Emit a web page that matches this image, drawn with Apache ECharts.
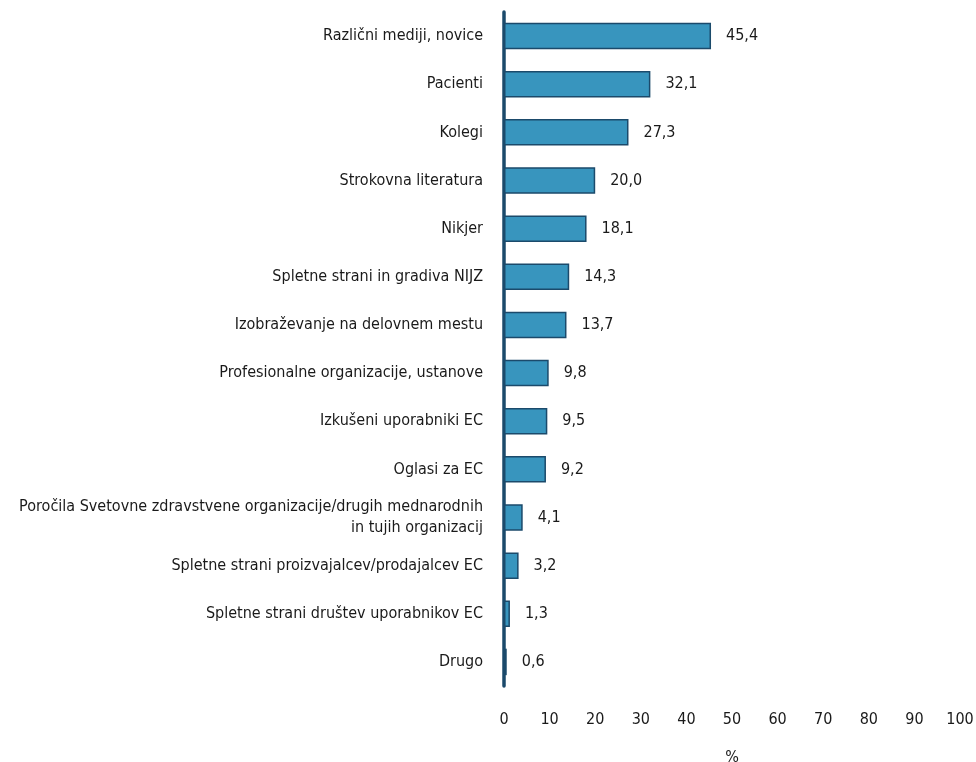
<!DOCTYPE html>
<html>
<head>
<meta charset="utf-8">
<script src="https://cdn.jsdelivr.net/npm/echarts@6/dist/echarts.min.js"></script>
<style>
  html, body { margin: 0; padding: 0; background: #fff; }
  #chart { width: 976px; height: 762px; }
</style>
</head>
<body>
<div id="chart"></div>
<script>
// Sources of information (share of respondents, %)
const categories = [
  'Različni mediji, novice',
  'Pacienti',
  'Kolegi',
  'Strokovna literatura',
  'Nikjer',
  'Spletne strani in gradiva NIJZ',
  'Izobraževanje na delovnem mestu',
  'Profesionalne organizacije, ustanove',
  'Izkušeni uporabniki EC',
  'Oglasi za EC',
  'Poročila Svetovne zdravstvene organizacije/drugih mednarodnih\nin tujih organizacij',
  'Spletne strani proizvajalcev/prodajalcev EC',
  'Spletne strani društev uporabnikov EC',
  'Drugo'
];
const values = [45.4, 32.1, 27.3, 20.0, 18.1, 14.3, 13.7, 9.8, 9.5, 9.2, 4.1, 3.2, 1.3, 0.6];
const xTicks = [0, 10, 20, 30, 40, 50, 60, 70, 80, 90, 100];
const axisTitle = '%';

const FONT = '"DejaVu Sans Condensed", "Liberation Sans Narrow", sans-serif';
const chart = echarts.init(document.getElementById('chart'));
chart.setOption({
  animation: false,
  textStyle: { fontFamily: FONT },
  grid: {
    left: 504, right: 16, top: 12, bottom: 76,
    containLabel: false, outerBoundsMode: 'none'
  },
  xAxis: {
    type: 'value',
    min: xTicks[0],
    max: xTicks[xTicks.length - 1],
    interval: xTicks[1] - xTicks[0],
    axisLine: { show: false },
    axisTick: { show: false },
    splitLine: { show: false },
    axisLabel: { color: '#1a1a1a', fontSize: 16, fontFamily: FONT, margin: 26 },
    name: axisTitle,
    nameLocation: 'middle',
    nameGap: 64,
    nameTextStyle: { color: '#1a1a1a', fontSize: 16, fontFamily: FONT }
  },
  yAxis: {
    type: 'category',
    data: categories,
    inverse: true,
    axisLine: { show: true, lineStyle: { color: '#1b4a6b', width: 3.5 } },
    axisTick: { show: false },
    axisLabel: {
      color: '#1a1a1a', fontSize: 16, fontFamily: FONT, margin: 21,
      align: 'right', lineHeight: 21
    }
  },
  series: [{
    type: 'bar',
    data: values,
    barWidth: '55%',
    itemStyle: { color: '#3895be', borderColor: '#1b4a6b', borderWidth: 1.5 },
    label: {
      show: true,
      position: 'right',
      distance: 15,
      color: '#1a1a1a',
      fontSize: 16,
      fontFamily: FONT,
      formatter: p => p.value.toFixed(1).replace('.', ',')
    }
  }]
});
</script>
</body>
</html>
